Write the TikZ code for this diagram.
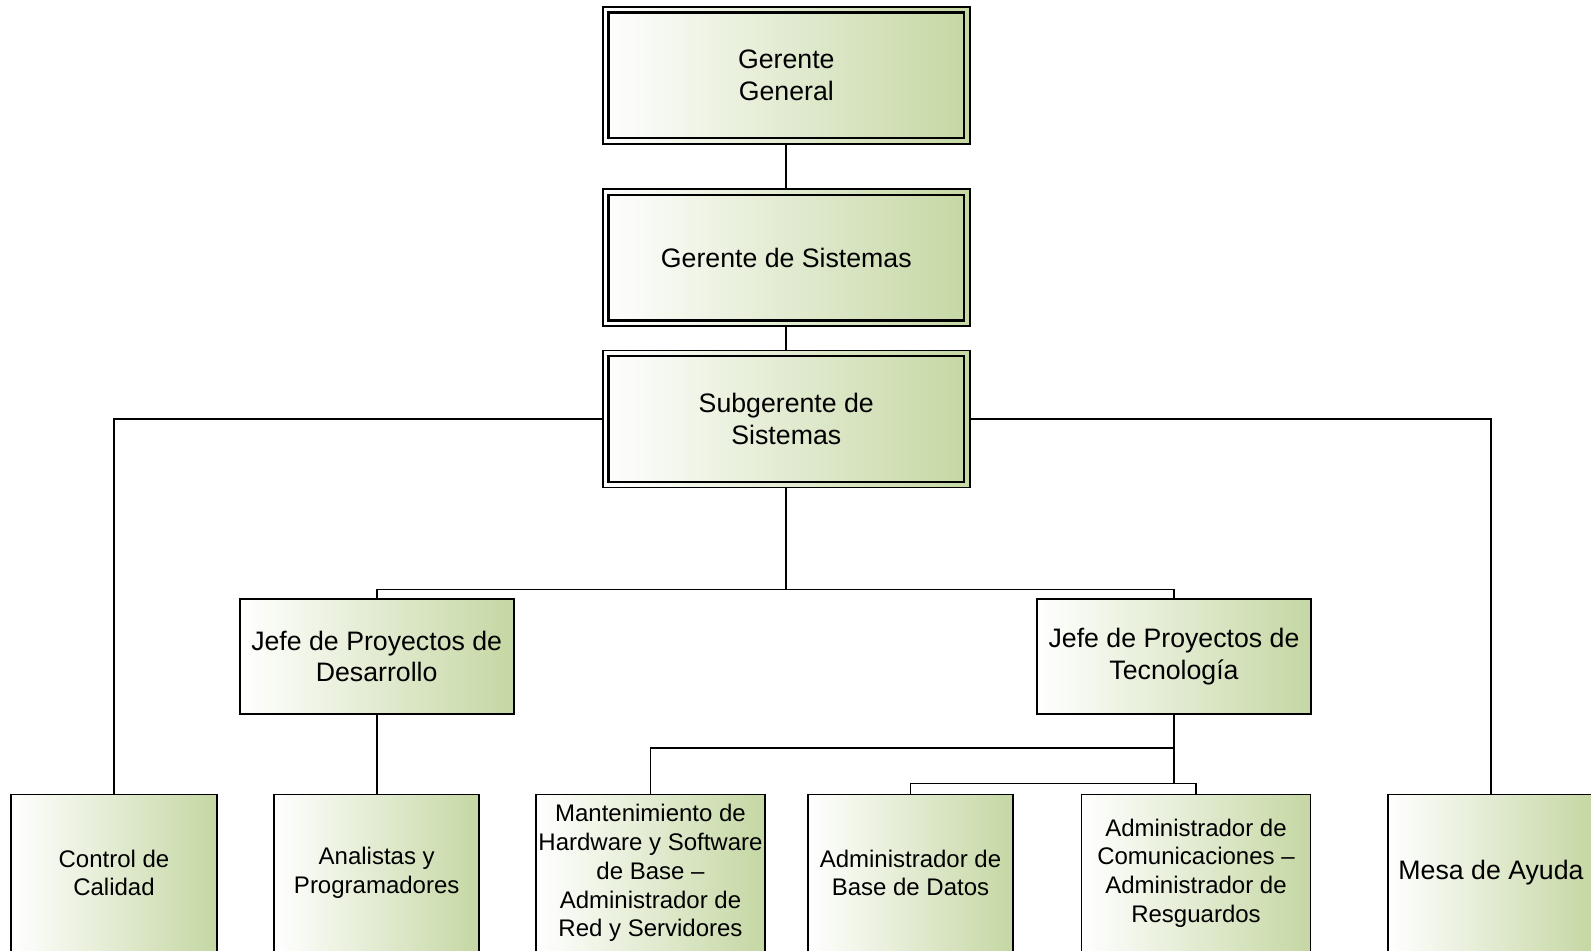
\documentclass[tikz,border=0pt]{standalone}
\usepackage{fontspec}
\setmainfont{Liberation Sans}
\usetikzlibrary{positioning}
\definecolor{boxgreen}{RGB}{197,215,163}
\tikzset{
  box/.style={draw, line width=0.9pt, left color=white, right color=boxgreen,
    align=center, inner sep=0pt, font=\fontsize{13.35}{15.7}\selectfont},
  bigbox/.style={box, line width=0.75pt, minimum width=183.5pt, minimum height=68.5pt},
  jefebox/.style={box, minimum width=137pt, minimum height=57.4pt},
  leafbox/.style={box, minimum height=78.5pt, font=\fontsize{12}{14.4}\selectfont},
  link/.style={line width=0.9pt},
}

\begin{document}
\begin{tikzpicture}[x=0.5pt, y=-0.5pt]
		\useasboundingbox (0,0) rectangle (1591,950);
		% direccion
		\draw (786.3,75.3) node [bigbox] (gg) {Gerente\\General};
		\draw (786.3,257.7) node [bigbox] (gs) {Gerente de Sistemas};
		\draw (786.3,419) node [bigbox] (sg) {Subgerente de\\Sistemas};
		\foreach \n in {gg,gs,sg}
			\draw [line width=1.1pt] ([shift={(3.2pt,-3.2pt)}]\n.north west) rectangle ([shift={(-3.2pt,3.2pt)}]\n.south east);
		% jefes
		\draw (376.7,656.7) node [jefebox] (jd) {Jefe de Proyectos de\\Desarrollo};
		\draw (1174,656.7) node [jefebox] (jt) {Jefe de Proyectos de\\Tecnología};
		% puestos
		\draw (114,873) node [leafbox, minimum width=103.3pt] (cc) {Control de\\Calidad};
		\draw (376.7,873) node [leafbox, minimum width=102.5pt] (ap) {Analistas y\\Programadores};
		\draw (650.5,873) node [leafbox, minimum width=114.5pt] (mh) {Mantenimiento de\\Hardware y Software\\de Base –\\Administrador de\\Red y Servidores};
		\draw (910.5,873) node [leafbox, minimum width=102.2pt] (bd) {Administrador de\\Base de Datos};
		\draw (1196,873) node [leafbox, minimum width=114.5pt] (ac) {Administrador de\\Comunicaciones –\\Administrador de\\Resguardos};
		\draw (1491,873) node [leafbox, minimum width=103pt, font=\fontsize{13.35}{15.7}\selectfont] (ma) {Mesa de Ayuda};
		% uniones
		\coordinate (j1) at (786.3,589.5);
		\coordinate (j2) at (1174,747.6);
		\coordinate (j3) at (1174,783.5);
		\draw [link]
		(gg) -- (gs)
		(gs) -- (sg)
		(sg.west) -| (cc.north)
		(sg.east) -| (ma.north)
		(sg.south) -- (j1)
		(jd.north) |- (j1) -| (jt.north)
		(jd.south) -- (ap.north)
		(jt.south) -- (j3)
		(j2) -| (mh.north)
		(bd.north) |- (j3) -| (ac.north);
	\end{tikzpicture}
\end{document}
